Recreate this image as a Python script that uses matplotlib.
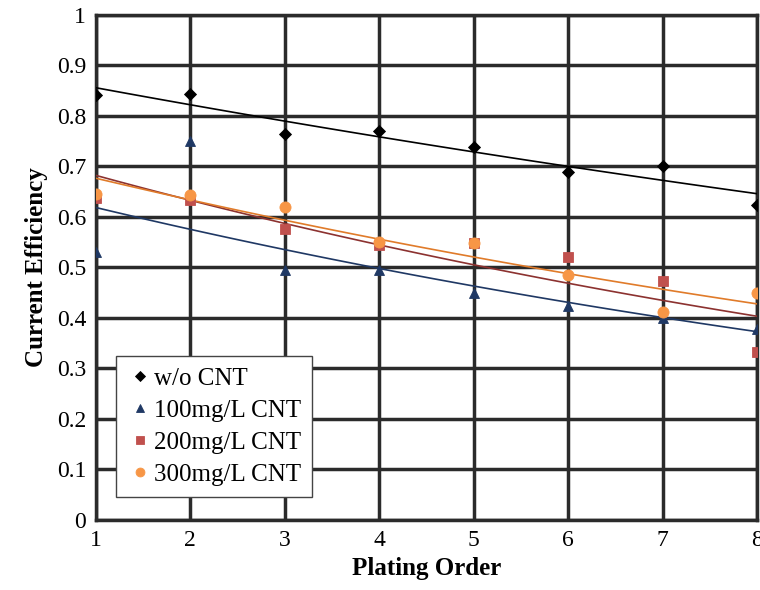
import numpy as np
import matplotlib.pyplot as plt

plt.rcParams['font.family'] = ['Liberation Serif', 'DejaVu Serif']

order = np.array([1, 2, 3, 4, 5, 6, 7, 8])
wo_cnt = [0.842, 0.844, 0.764, 0.770, 0.739, 0.689, 0.701, 0.624]
cnt_100 = [0.531, 0.750, 0.495, 0.495, 0.450, 0.424, 0.400, 0.378]
cnt_200 = [0.638, 0.634, 0.576, 0.545, 0.548, 0.521, 0.473, 0.333]
cnt_300 = [0.646, 0.644, 0.620, 0.550, 0.548, 0.485, 0.412, 0.450]

series = [
    ("w/o CNT", wo_cnt, 'D', '#000000', '#000000', 6),
    ("100mg/L CNT", cnt_100, '^', '#1f3864', '#1f3864', 7),
    ("200mg/L CNT", cnt_200, 's', '#c0504d', '#8c3230', 7),
    ("300mg/L CNT", cnt_300, 'o', '#f79646', '#e07b2a', 8),
]

fig = plt.figure(figsize=(7.6, 5.9), dpi=100)
ax = fig.add_axes([0.126, 0.119, 0.870, 0.856])

xx = np.linspace(1, 8, 100)
for name, vals, mk, col, trend, ms in series:
    ax.plot(order, vals, linestyle='none', marker=mk, color=col, ms=ms,
            markeredgewidth=0.6, label=name, zorder=4)
    # exponential trend line
    b, a = np.polyfit(order, np.log(vals), 1)
    ax.plot(xx, np.exp(a + b * xx), color=trend, lw=1.2, zorder=3)

ax.set_xlim(1, 8)
ax.set_ylim(0, 1)
ax.set_xticks(order)
ax.set_yticks(np.arange(0, 1.01, 0.1))
ax.set_yticklabels(['0', '0.1', '0.2', '0.3', '0.4', '0.5', '0.6', '0.7', '0.8', '0.9', '1'])
ax.tick_params(labelsize=17, length=0, pad=7)
ax.grid(True, color='#2b2b2b', lw=2.5, zorder=1)
for s in ax.spines.values():
    s.set_color('#2b2b2b')
    s.set_linewidth(2.5)

ax.set_xlabel("Plating Order", fontsize=18, fontweight='bold', labelpad=5)
ax.set_ylabel("Current Efficiency", fontsize=18, fontweight='bold', labelpad=6)

leg = ax.legend(loc='lower left', bbox_to_anchor=(0.012, 0.02), fontsize=18,
                fancybox=False, framealpha=1, edgecolor='#444444',
                handletextpad=0.05, handlelength=1.0, borderpad=0.45,
                labelspacing=0.38, markerscale=0.8)
leg.get_frame().set_linewidth(1.0)
leg.set_zorder(5)

fig.savefig('out.png', dpi=100)
